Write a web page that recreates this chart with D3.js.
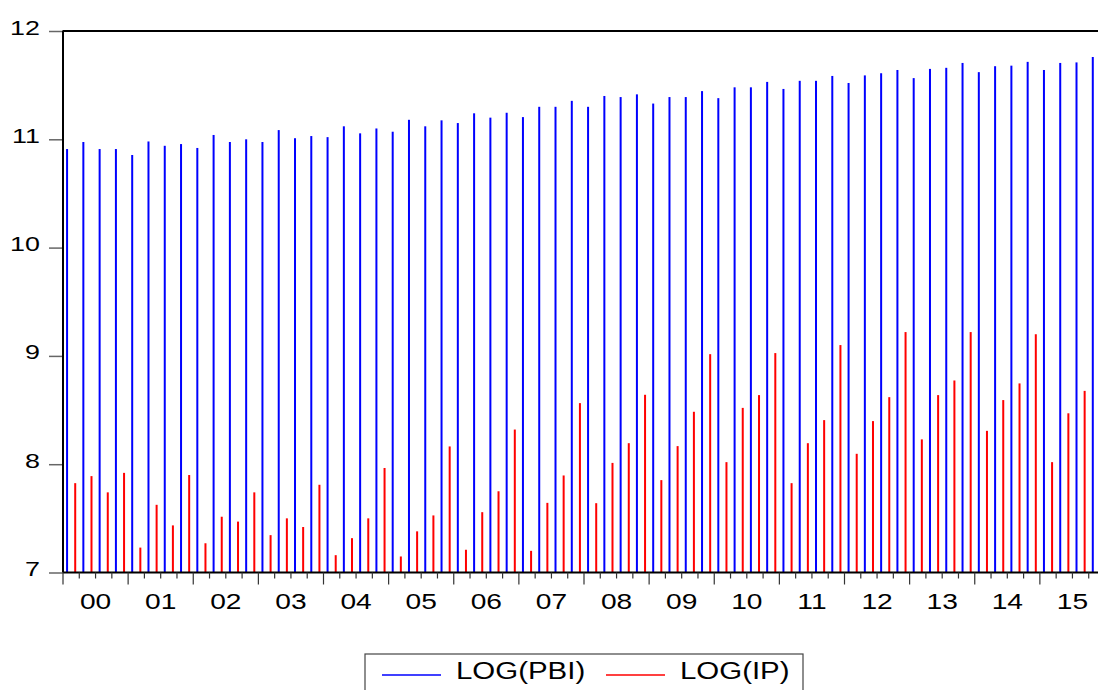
<!DOCTYPE html>
<html>
<head>
<meta charset="utf-8">
<script src="https://cdn.jsdelivr.net/npm/d3@7"></script>
<style>
  body { margin: 0; background: #fff; }
  svg { display: block; font-family: "Liberation Sans", Arial, sans-serif; }
</style>
</head>
<body>
<svg id="chart" width="1098" height="690"></svg>
<script>
// quarterly data 2000Q1 .. 2015Q4
const years = ['00', '01', '02', '03', '04', '05', '06', '07', '08', '09', '10', '11', '12', '13', '14', '15']
const quarters = years.flatMap(y => ['Q1', 'Q2', 'Q3', 'Q4'].map(q => y + q))

const logPBI = [
  10.91, 10.975, 10.91, 10.91, 10.855, 10.98, 10.94, 10.956,
  10.92, 11.04, 10.975, 11.00, 10.975, 11.085, 11.01, 11.03,
  11.02, 11.12, 11.055, 11.10, 11.07, 11.18, 11.12, 11.175,
  11.15, 11.24, 11.20, 11.245, 11.205, 11.30, 11.30, 11.355,
  11.30, 11.40, 11.39, 11.415, 11.33, 11.39, 11.39, 11.445,
  11.38, 11.48, 11.48, 11.53, 11.465, 11.54, 11.54, 11.585,
  11.52, 11.59, 11.61, 11.64, 11.565, 11.65, 11.66, 11.705,
  11.62, 11.675, 11.68, 11.715, 11.64, 11.705, 11.71, 11.76
]

const logIP = [
  7.825, 7.89, 7.74, 7.92, 7.23, 7.625, 7.435, 7.90,
  7.27, 7.515, 7.47, 7.74, 7.345, 7.50, 7.42, 7.81,
  7.16, 7.317, 7.50, 7.965, 7.148, 7.38, 7.527, 8.164,
  7.21, 7.557, 7.75, 8.32, 7.20, 7.643, 7.896, 8.564,
  7.64, 8.012, 8.194, 8.641, 7.853, 8.167, 8.484, 9.016,
  8.019, 8.52, 8.638, 9.026, 7.825, 8.194, 8.407, 9.10,
  8.096, 8.398, 8.619, 9.22, 8.229, 8.638, 8.773, 9.22,
  8.308, 8.592, 8.746, 9.20, 8.019, 8.47, 8.677, 9.25
]

const yTicks = [7, 8, 9, 10, 11, 12]
const seriesNames = ['LOG(PBI)', 'LOG(IP)']
const seriesColors = ['#0000ff', '#ff0000']

const svg = d3.select('#chart')
const plotLeft = 63
const plotRight = 1105
const plotTop = 31
const plotBottom = 572.5
const stretch = 1.28 // text in the original is widened

const x = d3.scaleBand().domain(quarters).range([plotLeft, plotRight])
const xSeries = d3.scaleBand().domain(seriesNames).range([0, x.bandwidth()])
const y = d3.scaleLinear().domain([7, 12]).range([plotBottom, plotTop])

// bars
const series = [logPBI, logIP]
series.forEach(function (vals, si) {
  const name = seriesNames[si]
  svg.append('g')
    .selectAll('rect')
    .data(vals)
    .enter().append('rect')
    .attr('x', (d, i) => x(quarters[i]) + xSeries(name) + xSeries.bandwidth() / 2 - 1)
    .attr('y', d => y(d))
    .attr('width', 2)
    .attr('height', d => y(7) - y(d))
    .attr('fill', seriesColors[si])
})

// left axis
const yAxis = svg.append('g')
  .attr('transform', 'translate(' + plotLeft + ',0)')
  .call(d3.axisLeft(y).tickValues(yTicks).tickSize(14).tickFormat(d3.format('d')))
yAxis.select('.domain').remove()
yAxis.selectAll('.tick line').attr('stroke', '#666').attr('stroke-width', 1.5)
yAxis.selectAll('.tick text').remove()
yAxis.selectAll('.tick').append('text')
  .attr('transform', 'translate(-23,3) scale(' + stretch + ',1)')
  .attr('text-anchor', 'end')
  .attr('font-size', 21)
  .attr('fill', '#000')
  .text(d => d)

// frame: left and top
svg.append('line')
  .attr('x1', plotLeft).attr('x2', plotLeft).attr('y1', plotTop - 0.5).attr('y2', plotBottom)
  .attr('stroke', '#000').attr('stroke-width', 2)
svg.append('line')
  .attr('x1', plotLeft).attr('x2', 1098).attr('y1', plotTop).attr('y2', plotTop)
  .attr('stroke', '#000').attr('stroke-width', 2)

// bottom axis: quarter ticks, longer year ticks
const xAxis = svg.append('g').attr('transform', 'translate(0,' + plotBottom + ')')
xAxis.append('line')
  .attr('x1', plotLeft).attr('x2', 1098)
  .attr('stroke', '#000').attr('stroke-width', 2)
xAxis.selectAll('line.qtick')
  .data(quarters)
  .enter().append('line')
  .attr('class', 'qtick')
  .attr('x1', d => x(d)).attr('x2', d => x(d))
  .attr('y1', 0)
  .attr('y2', (d, i) => i % 4 === 0 ? 12 : 6)
  .attr('stroke', '#333').attr('stroke-width', 1.2)
xAxis.selectAll('text')
  .data(years)
  .enter().append('text')
  .attr('transform', d => 'translate(' + (x(d + 'Q1') + 2 * x.bandwidth()) + ',36) scale(' + stretch + ',1)')
  .attr('text-anchor', 'middle')
  .attr('font-size', 22)
  .attr('fill', '#000')
  .text(d => d)

// legend
const legend = svg.append('g')
legend.append('rect')
  .attr('x', 365).attr('y', 654).attr('width', 438).attr('height', 50)
  .attr('fill', 'none').attr('stroke', '#444').attr('stroke-width', 1.2)
const legendX = [382, 606]
seriesNames.forEach(function (name, i) {
  legend.append('line')
    .attr('x1', legendX[i]).attr('x2', legendX[i] + 59)
    .attr('y1', 675).attr('y2', 675)
    .attr('stroke', seriesColors[i]).attr('stroke-width', 1.5)
  legend.append('text')
    .attr('transform', 'translate(' + (legendX[i] + 74) + ',679) scale(' + stretch + ',1)')
    .attr('font-size', 23)
    .attr('fill', '#000')
    .text(name)
})
</script>
</body>
</html>
